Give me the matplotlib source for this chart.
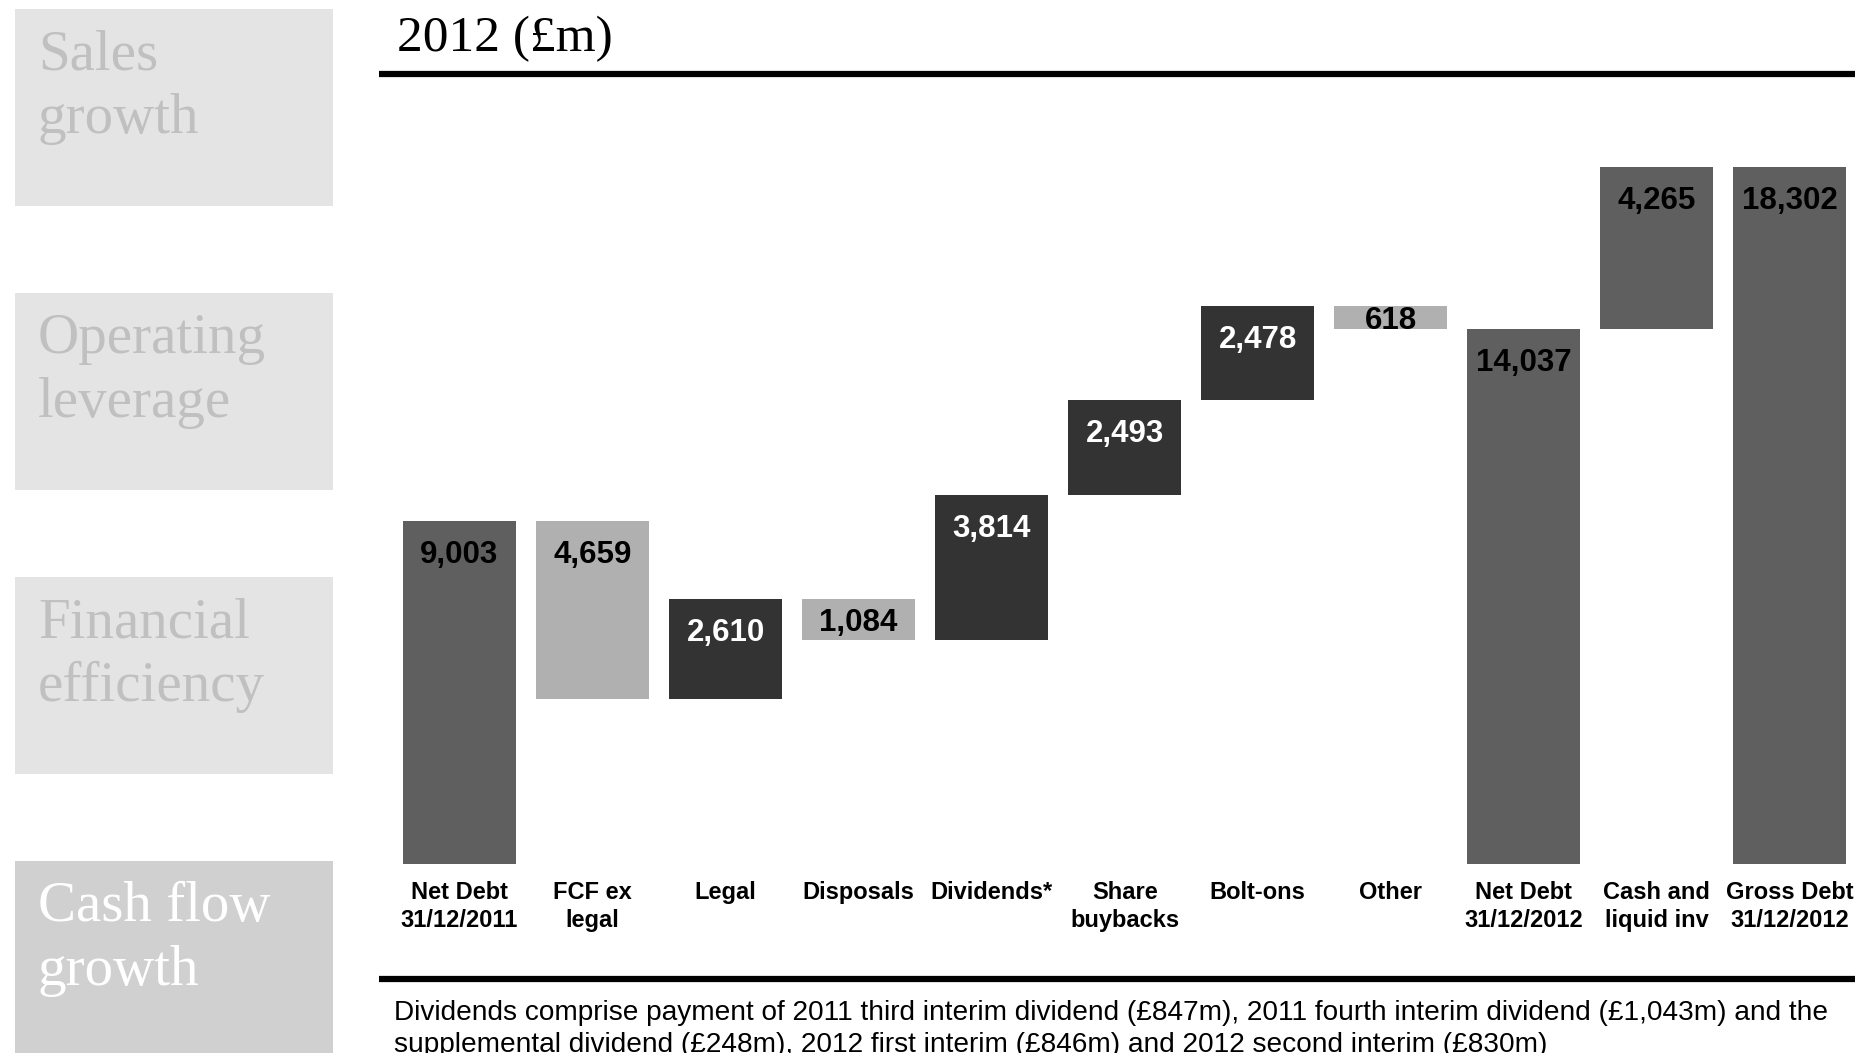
import matplotlib.pyplot as plt
from matplotlib.patches import Rectangle
from matplotlib.lines import Line2D

# data
categories = ["Net Debt\n31/12/2011", "FCF ex\nlegal", "Legal", "Disposals", "Dividends*",
              "Share\nbuybacks", "Bolt-ons", "Other", "Net Debt\n31/12/2012",
              "Cash and\nliquid inv", "Gross Debt\n31/12/2012"]
values = [9003, -4659, 2610, -1084, 3814, 2493, 2478, -618, 14037, 4265, 18302]
kinds = ["total", "dec", "inc", "dec", "inc", "inc", "inc", "dec", "total", "cash", "total"]
side_panels = ["Sales\ngrowth", "Operating\nleverage", "Financial\nefficiency", "Cash flow\ngrowth"]
title = "2012 (£m)"
footnote = ("Dividends comprise payment of 2011 third interim dividend (£847m), 2011 fourth interim dividend (£1,043m) and the\n"
            "supplemental dividend (£248m), 2012 first interim (£846m) and 2012 second interim (£830m)")

colors = {"total": "#5f5f5f", "cash": "#5f5f5f", "dec": "#b0b0b0", "inc": "#333333"}

W, H = 1858, 1053
fig = plt.figure(figsize=(W / 100, H / 100), dpi=100)


def fx(px):
    return px / W


def fy(py):
    return 1 - py / H


# left panels
for i, txt in enumerate(side_panels):
    top = 9 + 284 * i
    last = i == len(side_panels) - 1
    bottom = H + 5 if last else top + 197
    fig.add_artist(Rectangle((fx(15), fy(bottom)), fx(333) - fx(15), fy(top) - fy(bottom),
                             transform=fig.transFigure, color="#d0d0d0" if last else "#e4e4e4", lw=0))
    for j, line in enumerate(txt.split("\n")):
        fig.text(fx(38), fy(top + 60 + 64 * j), line, fontsize=41, family="Liberation Serif",
                 color="white" if last else "#c0c0c0", va="baseline", ha="left")

# title and rules
fig.text(fx(397), fy(51), title, fontsize=37, family="Liberation Serif", va="baseline", ha="left")
for yy in (74, 979):
    fig.add_artist(Line2D([fx(379), fx(1855)], [fy(yy), fy(yy)], transform=fig.transFigure,
                          color="black", lw=4.5, solid_capstyle="butt"))

for j, line in enumerate(footnote.split("\n")):
    fig.text(fx(394), fy(1020 + 32 * j), line, fontsize=20.2, family="Liberation Sans",
             va="baseline", ha="left")

# waterfall
ax = fig.add_axes([fx(379), fy(864), fx(1855) - fx(379), fy(167) - fy(864)])
ymax = max(values)
ax.set_xlim(-0.605, 10.49)
ax.set_ylim(0, ymax)
ax.axis("off")
px_per_unit = (864 - 167) / ymax

running = 0
for i, (v, k) in enumerate(zip(values, kinds)):
    if k == "total":
        bottom, top = 0, v
        running = v
    elif k == "dec":
        top = running
        running += v
        bottom = running
    else:
        bottom = running
        running += v
        top = running
    ax.bar(i, top - bottom, bottom=bottom, width=0.85, color=colors[k], lw=0)
    label_center = max(top - 31 / px_per_unit, (top + bottom) / 2)
    ax.annotate(f"{abs(v):,}", xy=(i, label_center), xytext=(0, -11 * 0.72), textcoords="offset points",
                ha="center", va="baseline", fontsize=22.5, fontweight="bold", family="Liberation Sans",
                color="white" if k == "inc" else "black")
    ax.annotate(categories[i], xy=(i, 0), xytext=(0, -17 * 0.72), textcoords="offset points",
                ha="center", va="top", fontsize=17, fontweight="bold", family="Liberation Sans",
                linespacing=1.28, annotation_clip=False)

fig.savefig("out.png", dpi=100)
